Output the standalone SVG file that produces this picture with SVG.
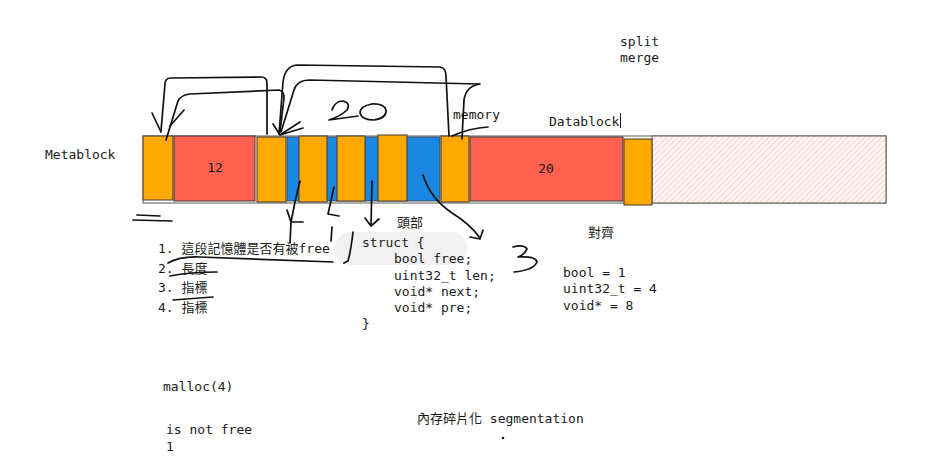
<svg xmlns="http://www.w3.org/2000/svg" width="931" height="469" viewBox="0 0 931 469">
<defs>
<pattern id="hatch" patternUnits="userSpaceOnUse" width="4" height="4" patternTransform="rotate(45)">
<rect width="4" height="4" fill="#fff7f6"/>
<line x1="0" y1="0" x2="0" y2="4" stroke="#ffa89e" stroke-width="1.1"/>
</pattern>
<style>
text{font-family:"DejaVu Sans Mono","Liberation Mono","Noto Sans CJK TC",monospace;font-size:13px;fill:#1a1a1a}
.o{fill:#ffa800;stroke:#3a3a3a;stroke-width:1}
.r{fill:#ff6150;stroke:#3a3a3a;stroke-width:1}
.b{fill:#1c86e3;stroke:#3a3a3a;stroke-width:0.8}
.ink{fill:none;stroke:#111;stroke-width:1.7;stroke-linecap:round;stroke-linejoin:round}
</style>
</defs>
<rect width="931" height="469" fill="#ffffff"/>

<g id="bar">
<rect x="143" y="136" width="743" height="67" fill="none" stroke="#5a5a5a" stroke-width="1"/>
</g>
<g id="free-area">
<rect x="652" y="136" width="234" height="67" fill="url(#hatch)" stroke="#5a5a5a" stroke-width="1"/>
</g>
<g id="meta-1"><rect class="o" x="143" y="136" width="30" height="64"/></g>
<g id="data-12"><rect class="r" x="174" y="136" width="81" height="65"/><text x="215" y="172" text-anchor="middle">12</text></g>
<g id="meta-2"><rect class="o" x="257" y="137" width="29" height="65"/></g>
<g id="blue-area"><rect class="b" x="287" y="137" width="153" height="64"/></g>
<g id="meta-3"><rect class="o" x="299" y="136" width="28" height="66"/></g>
<g id="meta-4"><rect class="o" x="337" y="136" width="28" height="65"/></g>
<g id="meta-5"><rect class="o" x="378" y="135" width="29" height="66"/></g>
<g id="meta-6"><rect class="o" x="441" y="136" width="28" height="66"/></g>
<g id="data-20"><rect class="r" x="470" y="137" width="153" height="64"/><text x="546" y="173" text-anchor="middle">20</text></g>
<g id="meta-7"><rect class="o" x="624" y="139" width="28" height="66"/></g>

<g id="overlay"><rect x="335" y="232" width="132" height="33" rx="16" fill="#f1f1f1"/></g>

<g id="labels">
<text x="45" y="159">Metablock</text>
<text x="620" y="46">split</text>
<text x="620" y="62">merge</text>
<text x="453" y="119">memory</text>
<text x="549" y="126">Datablock</text>
<text x="397" y="227">頭部</text>
<text x="588" y="237">對齊</text>
<text x="158" y="253">1. 這段記憶體是否有被free</text>
<text x="158" y="273">2. 長度</text>
<text x="158" y="292">3. 指標</text>
<text x="158" y="312">4. 指標</text>
<text x="362" y="247">struct {</text>
<text x="394" y="263">bool free;</text>
<text x="394" y="280">uint32_t len;</text>
<text x="394" y="296">void* next;</text>
<text x="394" y="312">void* pre;</text>
<text x="362" y="328">}</text>
<text x="563" y="277">bool = 1</text>
<text x="563" y="293">uint32_t = 4</text>
<text x="563" y="310">void* = 8</text>
<text x="163" y="391">malloc(4)</text>
<text x="166" y="434">is not free</text>
<text x="166" y="451">1</text>
<text x="417" y="423">內存碎片化 segmentation</text>
<circle cx="503" cy="438" r="1.3" fill="#1e1e1e"/>
<line x1="620.5" y1="113" x2="620.5" y2="128" stroke="#1e1e1e" stroke-width="1"/>
</g>

<g id="connectors" class="ink">
<path d="M267 134 L267 83 Q267 77 261 77 L171 78 Q165 78 165 84 L161 131"/>
<path d="M152 113 L161 132"/>
<path d="M166 140 L178 101 Q181 95 190 94 L279 90 Q284 91 284 98 L280 132"/>
<path d="M184 110 L170 126"/>
<path d="M279 134 L283 82 Q285 66 297 65 L440 67 Q446 68 446 76 L449 136"/>
<path d="M281 132 L294 90 Q297 80 310 80 L479 84"/>
<path d="M480 84 Q466 86 464 100 L462 139"/>
<path d="M452 136 Q470 128 488 127"/>
<path d="M273 124 L280 135 L300 122 M280 135 L303 128"/>
<path d="M332 110 Q335 101 343 101 Q351 103 347 110 Q341 116 329 120 L358 116"/>
<path d="M372 104 Q360 106 360 113 Q362 120 374 120 Q387 118 386 110 Q384 103 371 104"/>
<path d="M300 181 Q295 200 291 222 L290 243"/>
<path d="M287 210 L291 222 L303 222"/>
<path d="M334 187 L328 214 L339 216"/>
<path d="M332 227 L331 241"/>
<path d="M372 181 L371 226 M365 218 L371 226 L379 219"/>
<path d="M423 175 Q430 198 452 213 Q470 224 480 238"/>
<path d="M483 230 L480 239 L470 237"/>
<path d="M353 232 Q351 250 348 261 L344 263"/>
<path d="M168 263 Q180 256 200 257 L333 262"/>
<path d="M170 276 Q190 272 217 272"/>
<path d="M173 300 L213 297"/>
<path d="M133 220 L172 221 M137 215 L160 216"/>
<path d="M513 247 Q524 244 527 249 Q524 255 518 257 Q536 256 537 262 Q534 270 514 272"/>
</g>
</svg>
